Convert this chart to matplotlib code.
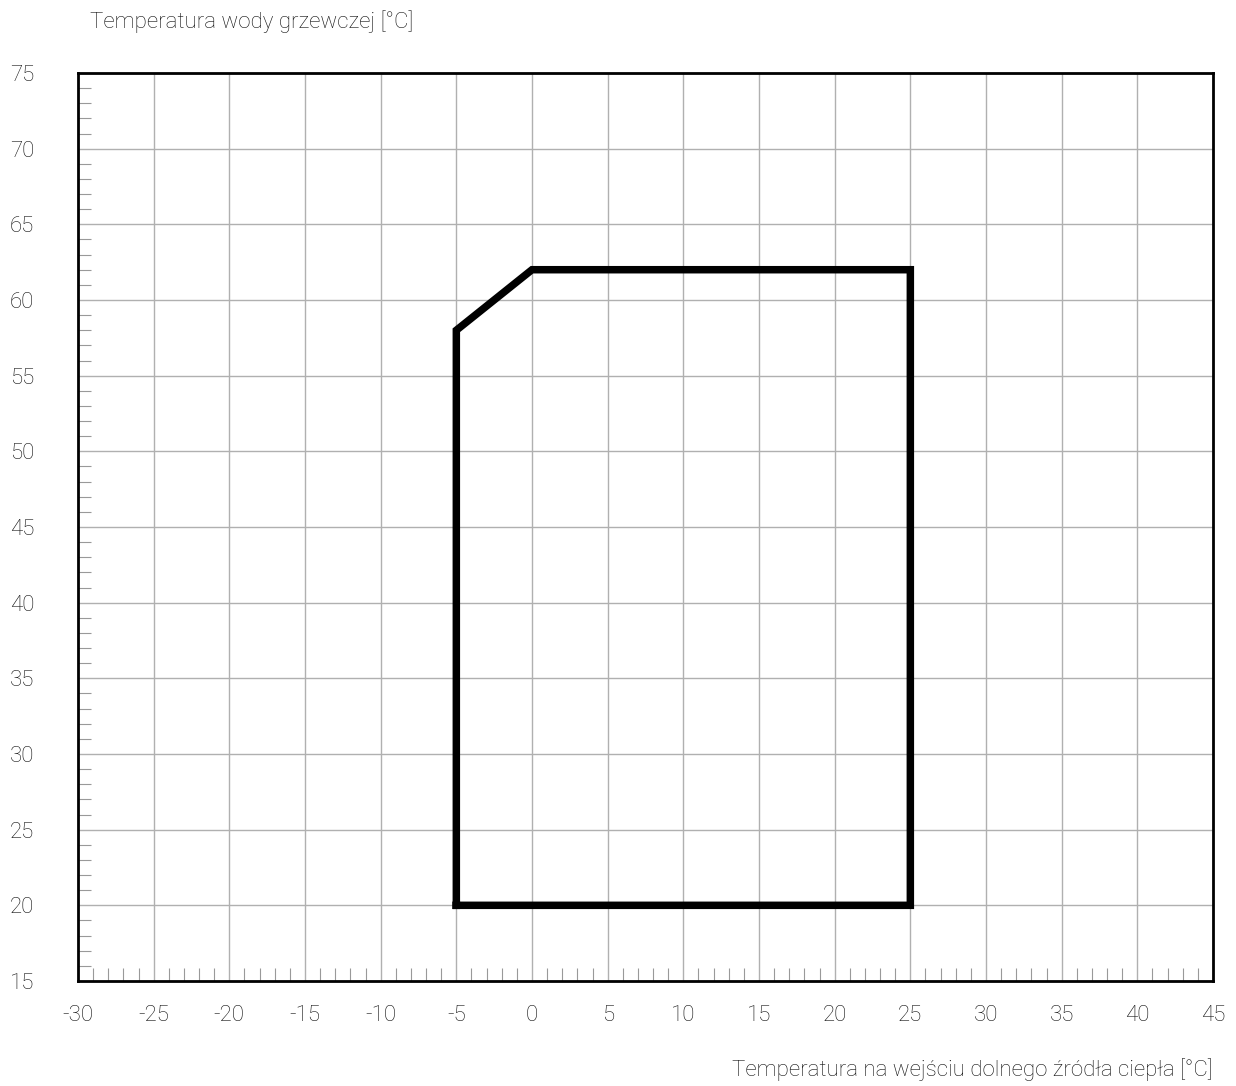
import matplotlib
matplotlib.use("Agg")
import matplotlib.pyplot as plt
from matplotlib.ticker import MultipleLocator

# operating envelope (source temp, heating water temp)
x_vals = [-5, -5, 0, 25, 25, -5]
y_vals = [20, 58, 62, 62, 20, 20]

x_ticks = list(range(-30, 50, 5))
y_ticks = list(range(15, 80, 5))

plt.rcParams["font.family"] = ["Roboto", "DejaVu Sans"]
plt.rcParams["axes.unicode_minus"] = False
text_color = "#111111"
px = 0.72  # points per pixel at dpi 100

fig = plt.figure(figsize=(12.36, 10.86), dpi=100)
ax = fig.add_axes([0.0631, 0.0967, 0.9183, 0.8361])

ax.plot(x_vals, y_vals, color="black", linewidth=7.5 * px, solid_joinstyle="miter",
        solid_capstyle="projecting", zorder=3)

ax.set_xlim(-30, 45)
ax.set_ylim(15, 75)
ax.set_xticks(x_ticks)
ax.set_yticks(y_ticks)
ax.xaxis.set_minor_locator(MultipleLocator(1))
ax.yaxis.set_minor_locator(MultipleLocator(1))

ax.grid(True, which="major", color="#b0b0b0", linewidth=1.0, zorder=0)
ax.tick_params(which="major", length=0, labelsize=16, labelcolor=text_color)
ax.tick_params(axis="y", which="major", pad=68 * px)
ax.tick_params(axis="x", which="major", pad=24 * px)
ax.tick_params(which="minor", direction="in", length=13 * px, width=0.8, color="#999999")
for lab in ax.get_xticklabels() + ax.get_yticklabels():
    lab.set_fontweight("light")
for lab in ax.get_yticklabels():
    lab.set_horizontalalignment("left")

for sp in ax.spines.values():
    sp.set_linewidth(2)
    sp.set_color("black")

fig.text(90 / 1236, 1 - 22 / 1086, "Temperatura wody grzewczej [°C]", fontsize=16,
         color=text_color, fontweight="light", ha="left", va="center")
fig.text(1213 / 1236, 1 - 1070 / 1086, "Temperatura na wejściu dolnego źródła ciepła [°C]",
         fontsize=16, color=text_color, fontweight="light", ha="right", va="center")

fig.savefig("out.png", dpi=100)
